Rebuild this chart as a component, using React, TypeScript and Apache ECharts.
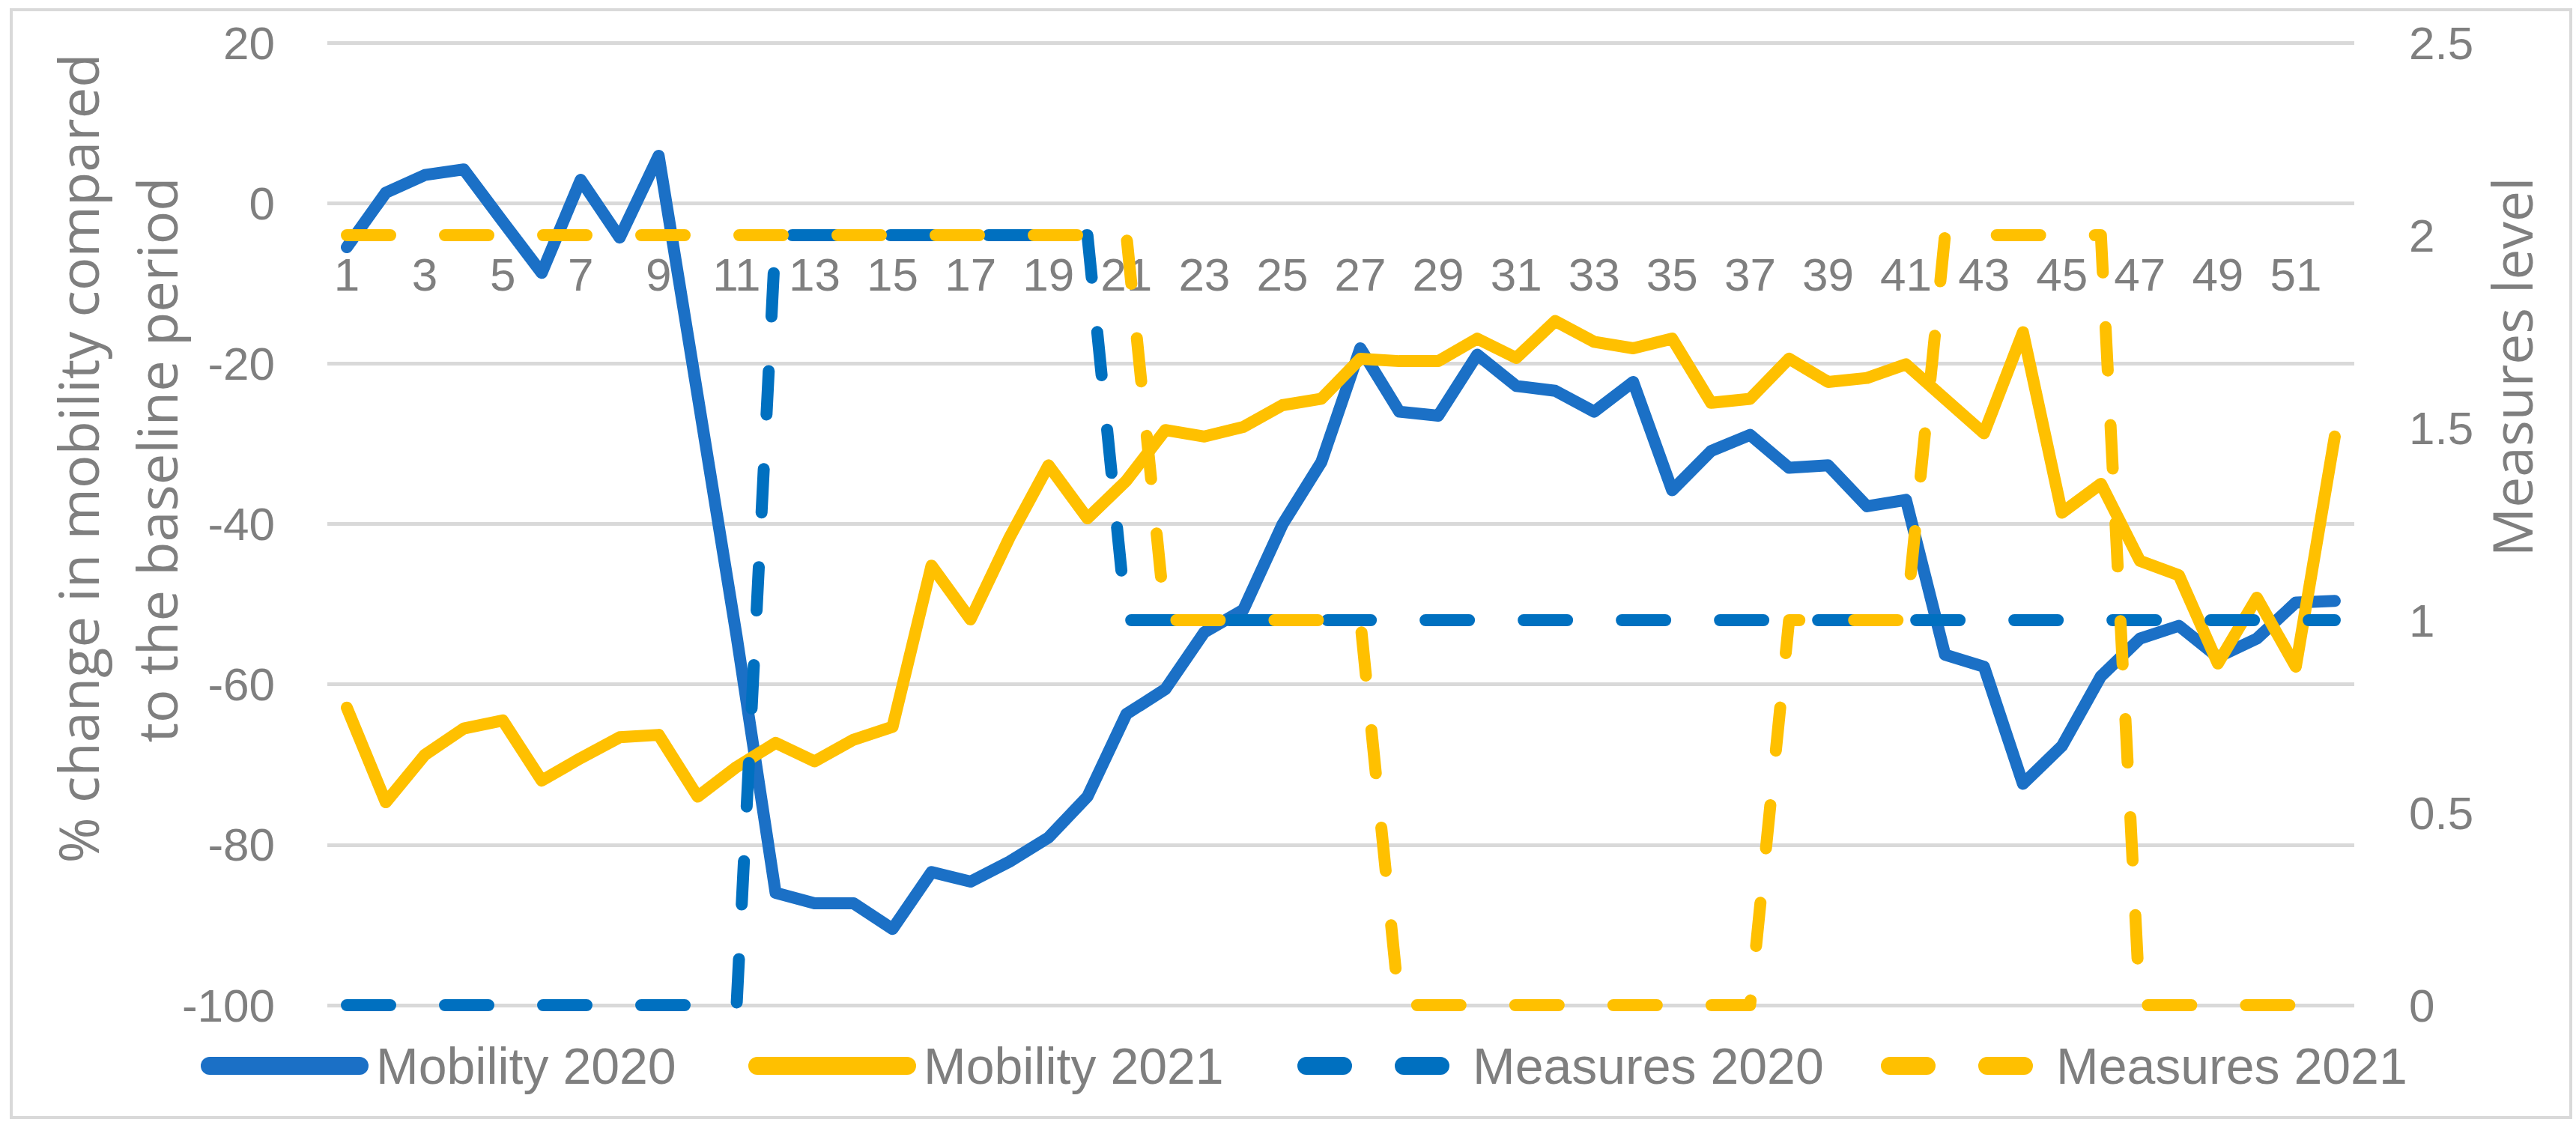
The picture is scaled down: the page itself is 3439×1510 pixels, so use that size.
import React, { useEffect, useRef } from "react";
import * as echarts from "echarts";

const weeks = [
  "1", "2", "3", "4", "5", "6", "7", "8", "9", "10",
  "11", "12", "13", "14", "15", "16", "17", "18", "19", "20",
  "21", "22", "23", "24", "25", "26", "27", "28", "29", "30",
  "31", "32", "33", "34", "35", "36", "37", "38", "39", "40",
  "41", "42", "43", "44", "45", "46", "47", "48", "49", "50",
  "51", "52",
];

const mobility2020 = [
  -5.5, 1.3, 3.5, 4.2, -2.3, -8.7, 2.9, -4.3, 5.9, -24,
  -54, -86, -87.3, -87.3, -90.5, -83.4, -84.6, -82.1, -79.1, -74.0,
  -63.7, -60.6, -53.5, -50.7, -40.1, -32.3, -18.1, -26.0, -26.5, -18.9,
  -22.8, -23.4, -26.0, -22.3, -35.8, -30.9, -28.9, -33.0, -32.7, -37.8,
  -37.0, -56.3, -57.8, -72.4, -67.7, -59.0, -54.3, -52.7, -56.6, -54.3,
  -49.8, -49.6,
];

const mobility2021 = [
  -62.9, -74.7, -68.8, -65.5, -64.5, -72.0, -69.2, -66.6, -66.3, -74.0,
  -70.3, -67.3, -69.6, -66.9, -65.3, -45.2, -51.9, -41.7, -32.7, -39.3,
  -34.6, -28.3, -29.1, -27.9, -25.2, -24.4, -19.4, -19.7, -19.7, -16.9,
  -19.3, -14.7, -17.3, -18.1, -16.9, -24.9, -24.4, -19.4, -22.3, -21.8,
  -20.1, -24.4, -28.7, -16.1, -38.6, -35.0, -44.6, -46.4, -57.4, -49.2,
  -57.8, -29.1,
];

const measures2020 = [
  0, 0, 0, 0, 0, 0, 0, 0, 0, 0,
  0, 2, 2, 2, 2, 2, 2, 2, 2, 2,
  1, 1, 1, 1, 1, 1, 1, 1, 1, 1,
  1, 1, 1, 1, 1, 1, 1, 1, 1, 1,
  1, 1, 1, 1, 1, 1, 1, 1, 1, 1,
  1, 1,
];

const measures2021 = [
  2, 2, 2, 2, 2, 2, 2, 2, 2, 2,
  2, 2, 2, 2, 2, 2, 2, 2, 2, 2,
  2, 1, 1, 1, 1, 1, 1, 0, 0, 0,
  0, 0, 0, 0, 0, 0, 0, 1, 1, 1,
  1, 2, 2, 2, 2, 2, 0, 0, 0, 0,
  0, 0,
];

const seriesNames = ["Mobility 2020", "Mobility 2021", "Measures 2020", "Measures 2021"];
const leftAxisTitle = ["% change in mobility compared", "to the baseline period"];
const rightAxisTitle = "Measures level";

const GRAY = "#7F7F7F";
const GRID = "#D9D9D9";
const BLUE_SOLID = "#1B70C6";
const BLUE_DASH = "#0070C0";
const YELLOW = "#FFC000";
const TICK_FONT = '"Liberation Sans", Arial, sans-serif';
const TITLE_FONT = '"Open Sans", "Noto Sans", sans-serif';

const legendLefts = [268, 999, 1732, 2511];

export default function App() {
  const ref = useRef<HTMLDivElement>(null);

  useEffect(() => {
    document.body.style.margin = "0";
    const chart = echarts.init(ref.current as HTMLDivElement, null, { renderer: "svg" });

    const tickLabel = { color: GRAY, fontSize: 62, fontFamily: TICK_FONT };
    const seriesColors = [BLUE_SOLID, YELLOW, BLUE_DASH, YELLOW];

    chart.setOption({
      animation: false,
      backgroundColor: "#FFFFFF",
      grid: { left: 437, right: 296, top: 57, bottom: 168, containLabel: false },
      xAxis: {
        type: "category",
        data: weeks,
        boundaryGap: true,
        position: "bottom",
        offset: -1071,
        axisLine: { show: false, onZero: false },
        axisTick: { show: false },
        axisLabel: { ...tickLabel, interval: 1, margin: 64 },
        splitLine: { show: false },
      },
      yAxis: [
        {
          type: "value",
          min: -100,
          max: 20,
          interval: 20,
          position: "left",
          offset: 62,
          axisLine: { show: false },
          axisTick: { show: false },
          axisLabel: { ...tickLabel, margin: 8 },
          splitLine: { show: true, lineStyle: { color: GRID, width: 5 } },
        },
        {
          type: "value",
          min: 0,
          max: 2.5,
          interval: 0.5,
          position: "right",
          offset: 65,
          axisLine: { show: false },
          axisTick: { show: false },
          axisLabel: { ...tickLabel, margin: 8 },
          splitLine: { show: false },
        },
      ],
      legend: seriesNames.map((name, i) => ({
        data: [{ name }],
        left: legendLefts[i],
        top: 1383,
        padding: 0,
        itemWidth: 200,
        itemHeight: 24,
        selectedMode: false,
        itemStyle: { opacity: 0 },
        lineStyle: {
          width: 24,
          type: i >= 2 ? [49, 81] : "solid",
          cap: "round",
          color: seriesColors[i],
        },
        textStyle: {
          color: GRAY,
          fontSize: 68,
          fontFamily: TICK_FONT,
          lineHeight: 80,
          padding: [0, 0, 0, 17],
        },
      })),
      graphic: [
        {
          type: "rect",
          shape: { x: 15, y: 13, width: 3417, height: 1479 },
          style: { fill: "none", stroke: GRID, lineWidth: 4 },
          silent: true,
        },
        {
          type: "text",
          x: 103,
          y: 612,
          rotation: Math.PI / 2,
          style: {
            text: leftAxisTitle[0],
            fill: GRAY,
            fontSize: 74,
            fontFamily: TITLE_FONT,
            align: "center",
            verticalAlign: "middle",
          },
        },
        {
          type: "text",
          x: 208,
          y: 614,
          rotation: Math.PI / 2,
          style: {
            text: leftAxisTitle[1],
            fill: GRAY,
            fontSize: 74,
            fontFamily: TITLE_FONT,
            align: "center",
            verticalAlign: "middle",
          },
        },
        {
          type: "text",
          x: 3352,
          y: 490,
          rotation: Math.PI / 2,
          style: {
            text: rightAxisTitle,
            fill: GRAY,
            fontSize: 73,
            fontFamily: TITLE_FONT,
            align: "center",
            verticalAlign: "middle",
          },
        },
      ],
      series: [
        {
          name: seriesNames[0],
          type: "line",
          data: mobility2020,
          yAxisIndex: 0,
          symbol: "none",
          itemStyle: { color: BLUE_SOLID },
          lineStyle: { color: BLUE_SOLID, width: 16, cap: "round", join: "round" },
          z: 2,
        },
        {
          name: seriesNames[1],
          type: "line",
          data: mobility2021,
          yAxisIndex: 0,
          symbol: "none",
          itemStyle: { color: YELLOW },
          lineStyle: { color: YELLOW, width: 16, cap: "round", join: "round" },
          z: 3,
        },
        {
          name: seriesNames[2],
          type: "line",
          data: measures2020,
          yAxisIndex: 1,
          symbol: "none",
          itemStyle: { color: BLUE_DASH },
          lineStyle: { color: BLUE_DASH, width: 16, type: [58, 73], cap: "round", join: "round" },
          z: 4,
        },
        {
          name: seriesNames[3],
          type: "line",
          data: measures2021,
          yAxisIndex: 1,
          symbol: "none",
          itemStyle: { color: YELLOW },
          lineStyle: { color: YELLOW, width: 16, type: [58, 73], cap: "round", join: "round" },
          z: 5,
        },
      ],
    });

    return () => chart.dispose();
  }, []);

  return <div ref={ref} style={{ width: 3439, height: 1510 }} />;
}
